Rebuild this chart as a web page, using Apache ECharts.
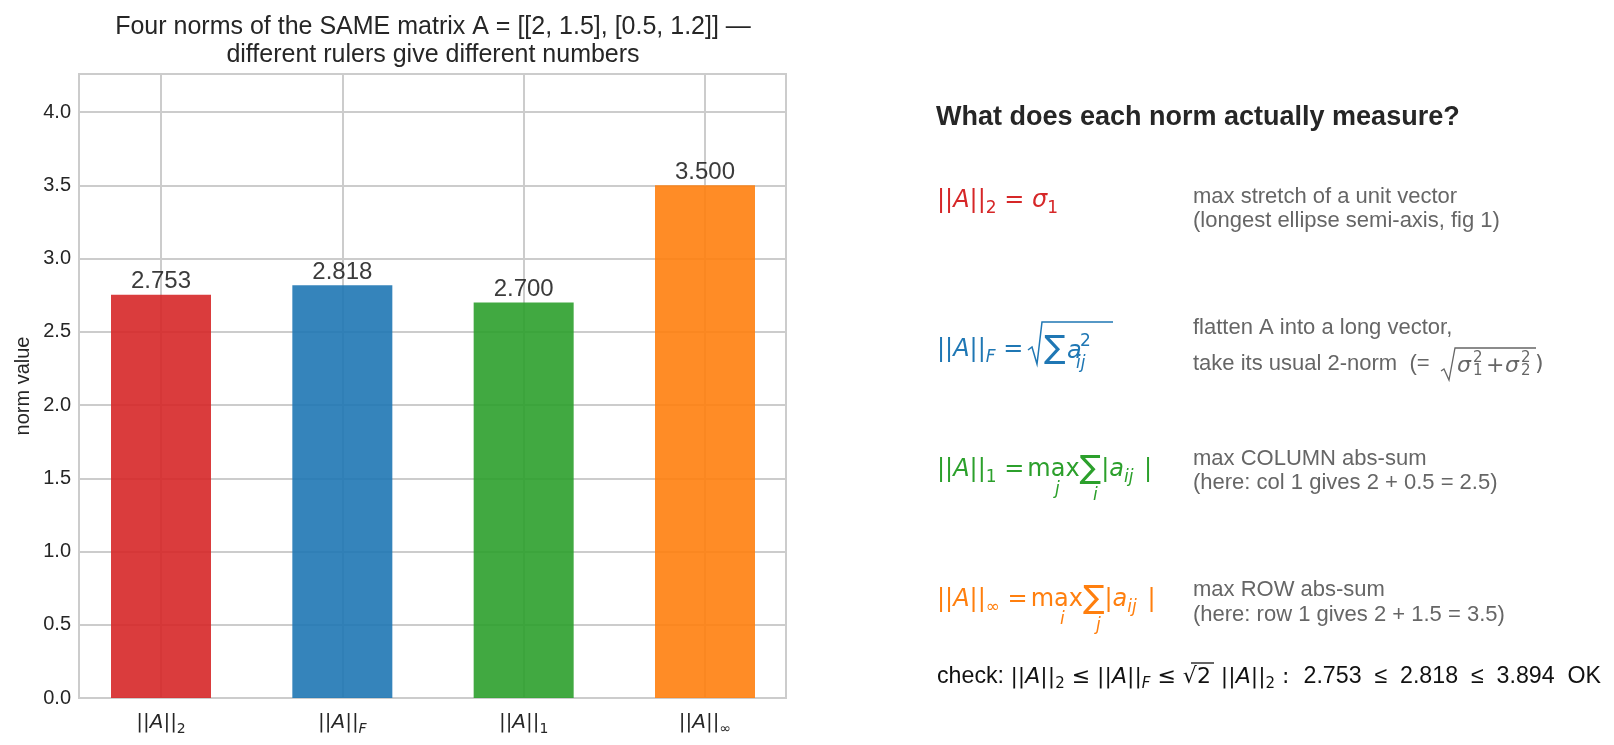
<!DOCTYPE html>
<html><head><meta charset="utf-8">
<script src="https://cdn.jsdelivr.net/npm/echarts@6/dist/echarts.min.js"></script>
<style>html,body{margin:0;padding:0;background:#fff}#c{width:1614px;height:745px}</style>
</head><body><div id="c"></div>
<script>
// ---------- data ----------
const categories = ['||A||_2', '||A||_F', '||A||_1', '||A||_∞'];
const normValues = [2.753, 2.818, 2.700, 3.500];
const barColors = ['#d62728', '#1f77b4', '#2ca02c', '#ff7f0e'];
const yMin = 0, yMax = 4.26, yStep = 0.5;
const titleLines = ['Four norms of the SAME matrix A = [[2, 1.5], [0.5, 1.2]] —', 'different rulers give different numbers'];
const panelHeading = 'What does each norm actually measure?';
const descLines = [
  ['max stretch of a unit vector', '(longest ellipse semi-axis, fig 1)'],
  ['flatten A into a long vector,', 'take its usual 2-norm  (='],
  ['max COLUMN abs-sum', '(here: col 1 gives 2 + 0.5 = 2.5)'],
  ['max ROW abs-sum', '(here: row 1 gives 2 + 1.5 = 3.5)']
];
const checkNumbers = '2.753  ≤  2.818  ≤  3.894  OK';

// ---------- styles ----------
const TXT = '#262626', GRID = '#cccccc', GRAY = '#666666';
const SANS = 'Liberation Sans', MATH = 'DejaVu Sans';

function mathRich(s, color, ts) {
  const L = Math.round(s * 1.7);
  const base = {fontFamily: MATH, fontSize: s, lineHeight: L, fill: color};
  const ss = Math.round(s * 0.7);
  const pad = [Math.round(s * 0.66), 0, 0, 0];
  return {
    n: base,
    i: Object.assign({}, base, {fontStyle: 'italic'}),
    sp: Object.assign({}, base, {width: 3}),
    s: {fontFamily: MATH, fontSize: ss, lineHeight: L, padding: pad, fill: color},
    si: {fontFamily: MATH, fontSize: ss, fontStyle: 'italic', lineHeight: L, padding: pad, fill: color},
    big: {fontFamily: MATH, fontSize: Math.round(s * 1.35), lineHeight: L, fill: color},
    t: {fontFamily: SANS, fontSize: ts || s, lineHeight: L, fill: color}
  };
}
function mtext(x, y, text, s, color, ts) {
  return {type: 'text', x: x, y: y, style: {text: text, rich: mathRich(s, color, ts), verticalAlign: 'middle', align: 'left', fill: color}};
}
function ptext(x, y, text, size, color, family, italic, weight) {
  return {type: 'text', x: x, y: y, style: {text: text, fontFamily: family || SANS, fontSize: size,
    fontStyle: italic ? 'italic' : 'normal', fontWeight: weight || 'normal', fill: color, verticalAlign: 'middle', align: 'left'}};
}
function pline(points, color, w) {
  return {type: 'polyline', shape: {points: points}, style: {stroke: color, lineWidth: w || 1.4, fill: null}};
}

const chart = echarts.init(document.getElementById('c'));

const graphics = [];
// title
graphics.push({type: 'text', x: 433, y: 41.5, style: {text: titleLines.join('\n'), fontFamily: SANS, fontSize: 25,
  lineHeight: 27.8, fill: TXT, align: 'center', verticalAlign: 'middle'}});
// heading
graphics.push(ptext(936, 118, panelHeading, 27, TXT, SANS, false, 'bold'));
// descriptions
const descY = [[196.6, 221.2], [328.3, 364.3], [459, 483], [589.7, 615]];
descLines.forEach((ls, k) => ls.forEach((t, j) => graphics.push(ptext(1193, descY[k][j], t, 22, GRAY))));

// formulas
const FX = 937;
graphics.push(mtext(FX, 201, '{n|||}{i|A}{n|||}{s|2}{n| = }{i|σ}{s|1}', 24, barColors[0]));
// Frobenius
graphics.push(mtext(FX, 350, '{n|||}{i|A}{n|||}{si|F}{n| = }', 24, barColors[1]));
graphics.push(pline([[1028, 350], [1032, 347], [1037, 364], [1042, 322], [1113, 322]], barColors[1], 1.5));
graphics.push(ptext(1044, 350, '∑', 32, barColors[1], MATH));
graphics.push(ptext(1067, 352, 'a', 24, barColors[1], MATH, true));
graphics.push(ptext(1080, 342, '2', 17, barColors[1], MATH));
graphics.push(ptext(1076, 364, 'ij', 17, barColors[1], MATH, true));
// 1-norm
graphics.push(mtext(FX, 470, '{n|||}{i|A}{n|||}{s|1}{n| =}{sp| }{n|max}{big|∑}{n||}{i|a}{si|ij}{n| }{sp| }{n||}', 24, barColors[2]));
graphics.push(ptext(1055, 490, 'j', 17, barColors[2], MATH, true));
graphics.push(ptext(1093, 496, 'i', 17, barColors[2], MATH, true));
// inf-norm
graphics.push(mtext(FX, 600, '{n|||}{i|A}{n|||}{s|∞}{n| =}{sp| }{n|max}{big|∑}{n||}{i|a}{si|ij}{n| }{sp| }{n||}', 24, barColors[3]));
graphics.push(ptext(1060, 620, 'i', 17, barColors[3], MATH, true));
graphics.push(ptext(1096, 626, 'j', 17, barColors[3], MATH, true));
// blue description math
graphics.push(pline([[1441, 371], [1444, 369], [1449, 380], [1455, 348], [1536, 348]], GRAY, 1.3));
graphics.push(ptext(1457, 366, 'σ', 22, GRAY, MATH, true));
graphics.push(ptext(1473, 358, '2', 15, GRAY, MATH));
graphics.push(ptext(1473, 371, '1', 15, GRAY, MATH));
graphics.push(ptext(1486, 366, '+', 22, GRAY, MATH));
graphics.push(ptext(1505, 366, 'σ', 22, GRAY, MATH, true));
graphics.push(ptext(1521, 358, '2', 15, GRAY, MATH));
graphics.push(ptext(1521, 371, '2', 15, GRAY, MATH));
graphics.push(ptext(1535, 364, ')', 22, GRAY, MATH));
// check line
graphics.push(mtext(FX, 677, '{t|check: }{n|||}{i|A}{n|||}{s|2}{n| ≤ }{n|||}{i|A}{n|||}{si|F}{n| ≤ }{n|√}{n|2 }{sp| }{n|||}{i|A}{n|||}{s|2}{n| :  }{t|' + checkNumbers + '}', 22, '#111111', 23.2));
graphics.push(pline([[1191, 663], [1214, 663]], '#111111', 1.3));

const option = {
  animation: false,
  backgroundColor: '#ffffff',
  grid: [
    {left: 79, top: 74, width: 707, height: 624, show: true, borderColor: GRID, borderWidth: 2, backgroundColor: 'transparent'},
    {left: 161, top: 74, width: 544, height: 624, show: false}
  ],
  xAxis: [
    {gridIndex: 0, type: 'value', show: false, min: 0, max: 1},
    {gridIndex: 1, type: 'category', data: categories, boundaryGap: false,
     axisLine: {show: false}, axisTick: {show: false},
     splitLine: {show: true, lineStyle: {color: GRID, width: 2}},
     axisLabel: {margin: 8, color: TXT,
       formatter: function (v) { const p = v.split('_'); const sub = p[1];
         const st = /[A-Za-z]/.test(sub) ? 'si' : 's';
         return '{n|||}{i|A}{n|||}{' + st + '|' + sub + '}'; },
       rich: mathRich(20, TXT)}}
  ],
  yAxis: [
    {gridIndex: 0, type: 'value', min: yMin, max: yMax, interval: yStep,
     name: 'norm value', nameLocation: 'middle', nameGap: 46,
     nameTextStyle: {fontFamily: SANS, fontSize: 20, color: TXT},
     axisLine: {show: false}, axisTick: {show: false},
     axisLabel: {fontFamily: SANS, fontSize: 20, color: TXT, margin: 8, showMaxLabel: false,
       formatter: v => (Math.abs(v / yStep - Math.round(v / yStep)) < 1e-6 ? v.toFixed(1) : '')},
     splitLine: {show: true, lineStyle: {color: GRID, width: 2}}},
    {gridIndex: 1, type: 'value', min: yMin, max: yMax, show: false, splitLine: {show: false}}
  ],
  series: [{
    type: 'bar', xAxisIndex: 1, yAxisIndex: 1, barWidth: 100, clip: false,
    data: normValues.map((v, k) => ({value: v, itemStyle: {color: barColors[k], opacity: 0.9}})),
    label: {show: true, position: 'top', distance: 1, fontFamily: SANS, fontSize: 24, color: TXT,
      lineHeight: 24, formatter: p => p.value.toFixed(3)}
  }],
  graphic: graphics
};
chart.setOption(option);
</script></body></html>
